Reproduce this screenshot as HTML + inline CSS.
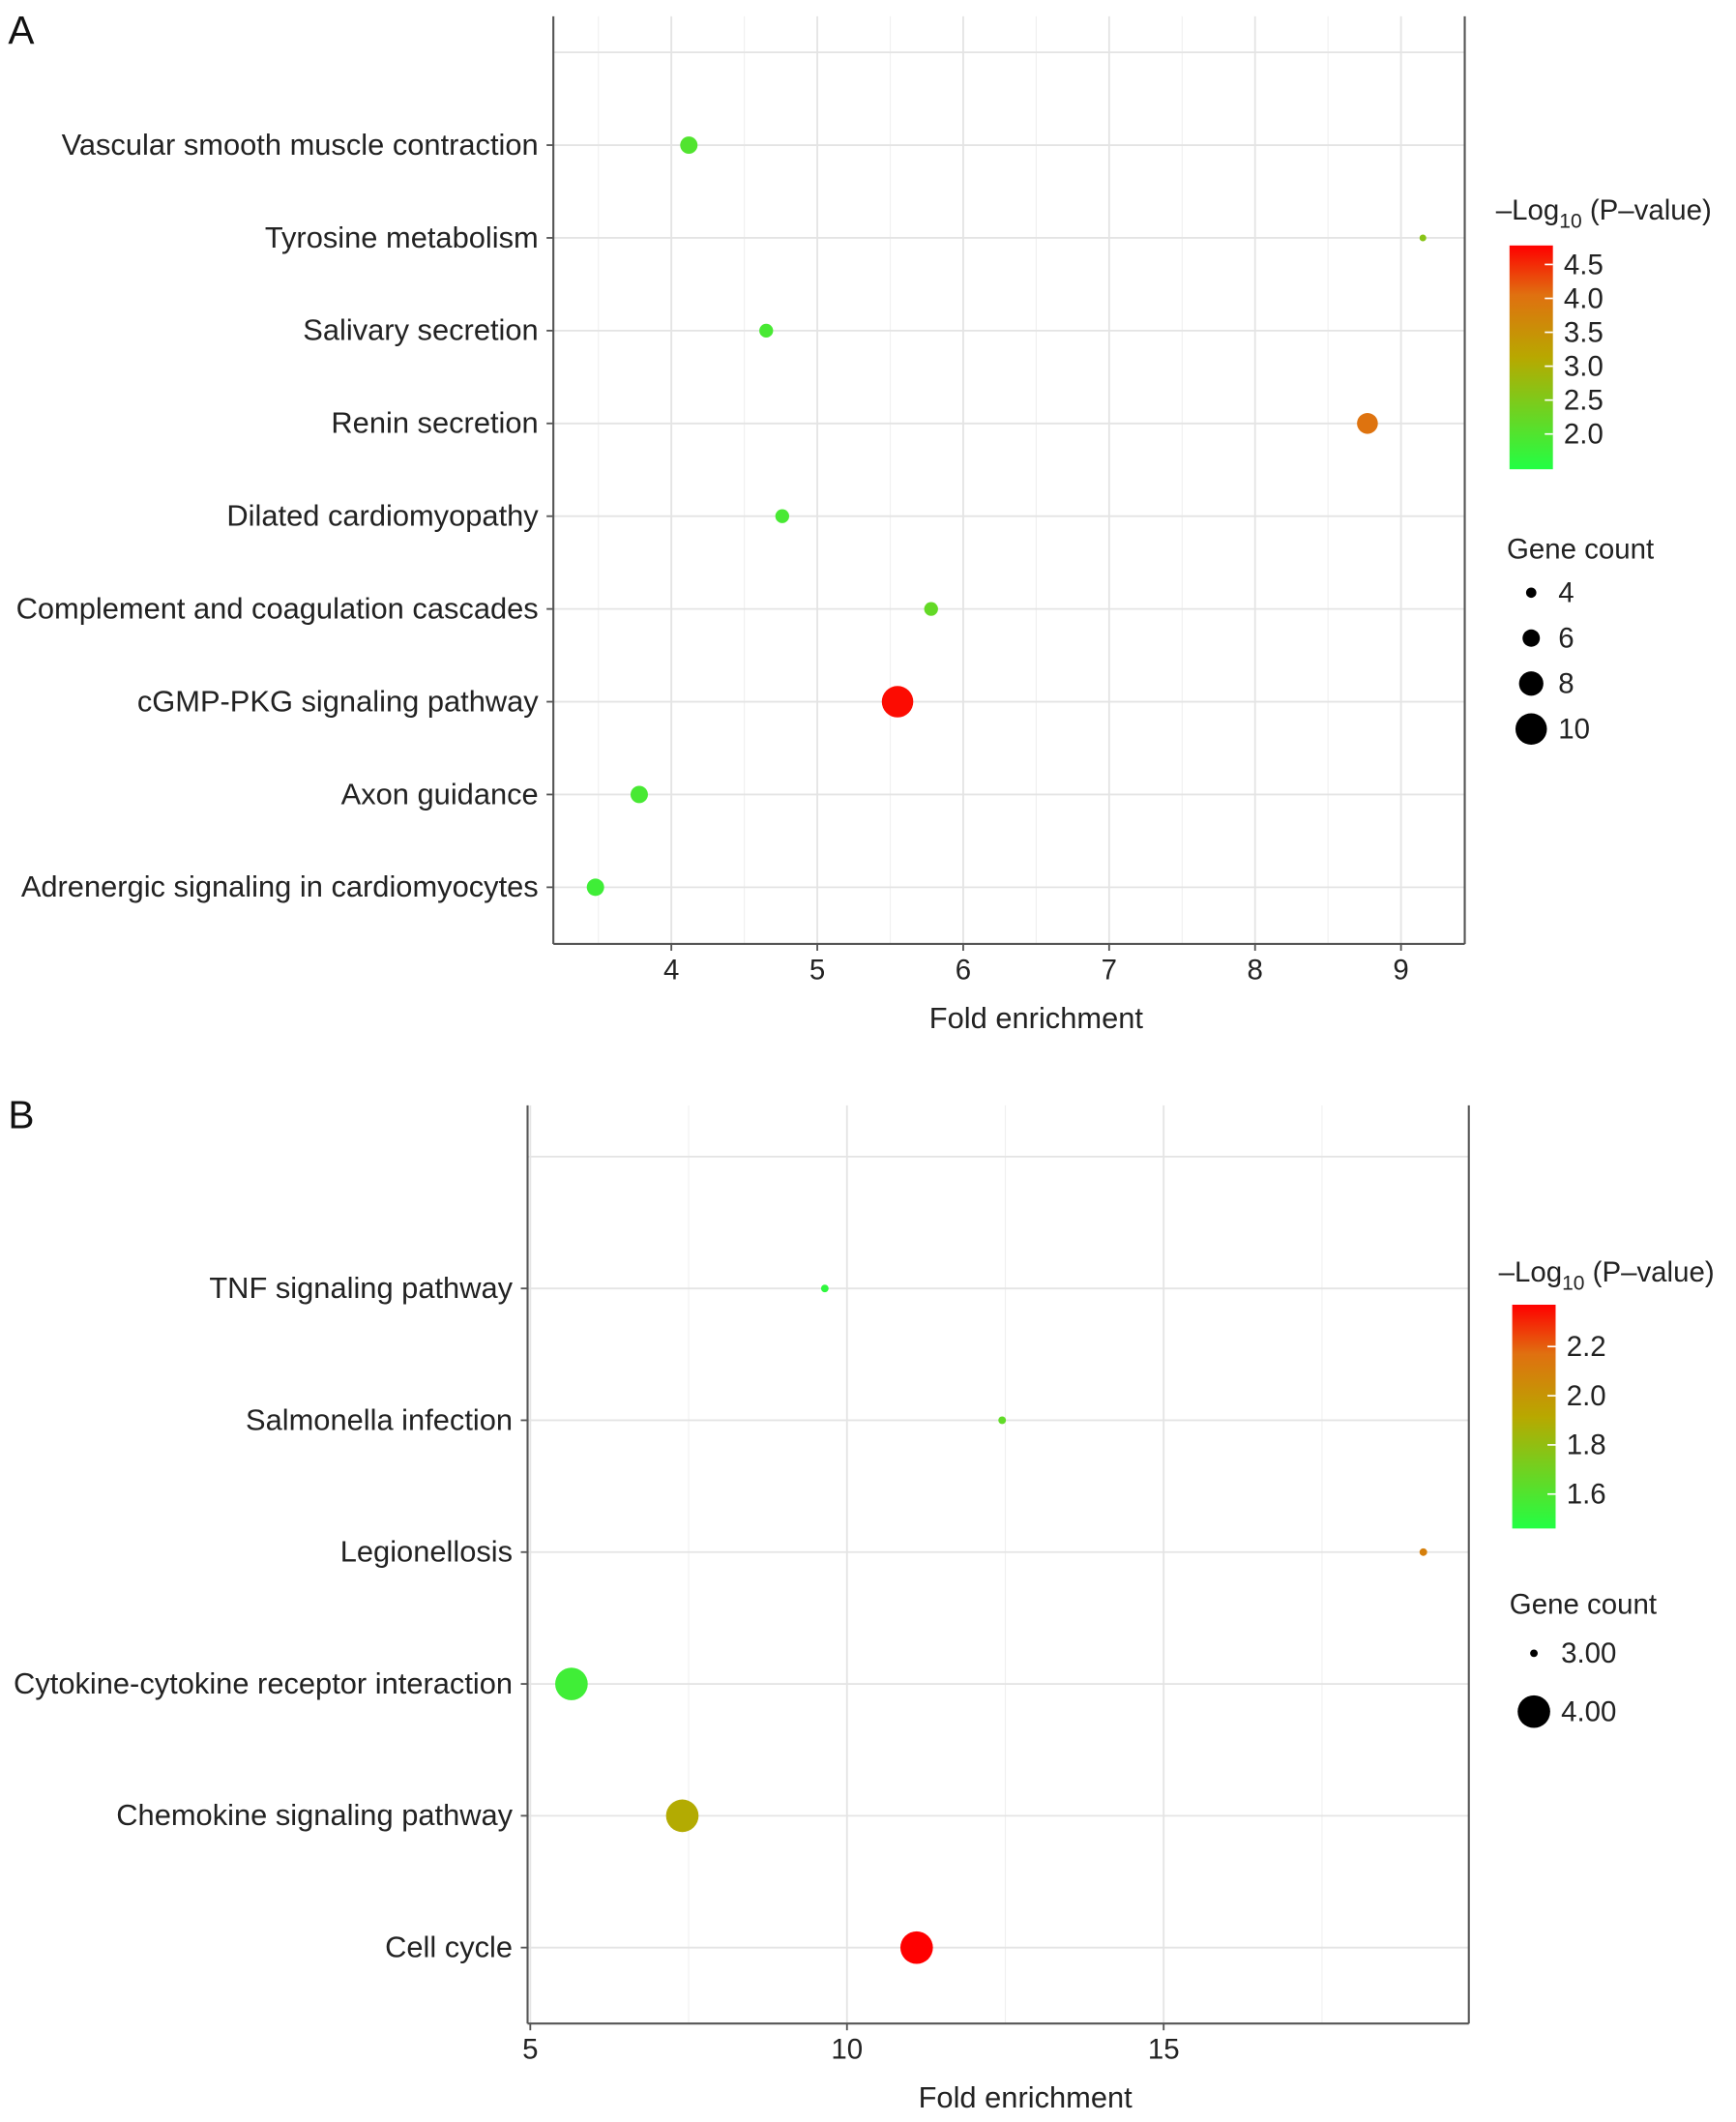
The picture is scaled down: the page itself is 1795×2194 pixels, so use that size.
<!DOCTYPE html>
<html><head><meta charset="utf-8"><style>
html,body{margin:0;padding:0;background:#fff;}
svg{display:block;font-family:"Liberation Sans",Arial,sans-serif;}
</style></head><body>
<svg id="chart" width="1795" height="2194" viewBox="0 0 1280 1564.6" preserveAspectRatio="none" xmlns="http://www.w3.org/2000/svg">
<defs>
<linearGradient id="gA" x1="0" y1="1" x2="0" y2="0">
<stop offset="0" stop-color="#22ff44"/><stop offset="0.5" stop-color="#b8a800"/><stop offset="0.78" stop-color="#e07010"/><stop offset="1" stop-color="#ff0000"/>
</linearGradient>
<linearGradient id="gB" x1="0" y1="1" x2="0" y2="0">
<stop offset="0" stop-color="#22ff44"/><stop offset="0.5" stop-color="#b8a800"/><stop offset="0.78" stop-color="#e07010"/><stop offset="1" stop-color="#ff0000"/>
</linearGradient>
</defs>
<g id="panelA"></g>
<g id="panelB"></g>
</svg>
<script>
const catsA = ["Vascular smooth muscle contraction","Tyrosine metabolism","Salivary secretion","Renin secretion","Dilated cardiomyopathy","Complement and coagulation cascades","cGMP-PKG signaling pathway","Axon guidance","Adrenergic signaling in cardiomyocytes"];
const foldA = [4.12, 9.15, 4.65, 8.77, 4.76, 5.78, 5.55, 3.78, 3.48];
const countA = [6, 3, 5, 7, 5, 5, 10, 6, 6];
const pA = [2.0, 2.6, 1.9, 4.0, 1.9, 2.2, 4.7, 1.9, 1.8];
const ticksA = [4,5,6,7,8,9];
const colorTicksA = [2.0,2.5,3.0,3.5,4.0,4.5];
const sizeLegA = [4,6,8,10];

const catsB = ["TNF signaling pathway","Salmonella infection","Legionellosis","Cytokine-cytokine receptor interaction","Chemokine signaling pathway","Cell cycle"];
const foldB = [9.65, 12.45, 19.1, 5.65, 7.4, 11.1];
const countB = [3, 3, 3, 4, 4, 4];
const pB = [1.5, 1.65, 2.1, 1.55, 1.9, 2.4];
const ticksB = [5,10,15];
const colorTicksB = [1.6,1.8,2.0,2.2];
const sizeLegB = [3,4];

const NS="http://www.w3.org/2000/svg";
function mk(parent,tag,attrs,text){const e=document.createElementNS(NS,tag);for(const k in attrs)e.setAttribute(k,attrs[k]);if(text!==undefined)e.textContent=text;parent.appendChild(e);return e;}
function hex(c){return [parseInt(c.slice(1,3),16),parseInt(c.slice(3,5),16),parseInt(c.slice(5,7),16)];}
const stops=[[0,"#22ff44"],[0.5,"#b8a800"],[0.78,"#e07010"],[1,"#ff0000"]];
function colorAt(t){t=Math.max(0,Math.min(1,t));let i=0;while(i<stops.length-2&&t>stops[i+1][0])i++;const a=hex(stops[i][1]),b=hex(stops[i+1][1]);const u=(t-stops[i][0])/(stops[i+1][0]-stops[i][0]);return "rgb("+a.map((v,k)=>Math.round(v+(b[k]-v)*u)).join(",")+")";}

function panel(g,cfg){
  const {cats,fold,count,p,ticks,colorTicks,sizeLeg}=cfg;
  const x=v=>cfg.x0+(v-cfg.v0)*cfg.px;
  const y=i=>cfg.yFirst+i*cfg.dy;
  const col=v=>colorAt((v-cfg.cmin)/(cfg.cmax-cfg.cmin));
  const rad=c=>cfg.r(c);
  let e=mk(g,"text",{x:6,y:cfg.letterY,"font-size":29,fill:"#111"},cfg.letter);
  
  
  const step=cfg.step;
  for(let v=Math.ceil(cfg.vmin/step)*step; v<=cfg.vmax; v+=step){
    const major=ticks.some(t=>Math.abs(t-v)<1e-6);
    e=mk(g,"line",{x1:x(v),x2:x(v),y1:cfg.top,y2:cfg.bottom,stroke:major?"#e4e4e4":"#f0f0f0","stroke-width":major?1.3:0.8});
    
    
  }
  for(let i=-1;i<cats.length;i++){
    e=mk(g,"line",{x1:cfg.left,x2:cfg.right,y1:y(i),y2:y(i),stroke:"#e4e4e4","stroke-width":1.3});
    
    
  }
  e=mk(g,"line",{x1:cfg.left,x2:cfg.left,y1:cfg.top,y2:cfg.bottom,stroke:"#555","stroke-width":1.5});
  
  e=mk(g,"line",{x1:cfg.right,x2:cfg.right,y1:cfg.top,y2:cfg.bottom,stroke:"#555","stroke-width":1.5});
  
  e=mk(g,"line",{x1:cfg.left,x2:cfg.right,y1:cfg.bottom,y2:cfg.bottom,stroke:"#555","stroke-width":1.5});
  
  ticks.forEach(t=>{
    e=mk(g,"line",{x1:x(t),x2:x(t),y1:cfg.bottom,y2:cfg.bottom+5,stroke:"#555","stroke-width":1.3});
    
    e=mk(g,"text",{x:x(t),y:cfg.bottom+26,"font-size":21,"text-anchor":"middle",fill:"#222"},String(t));
    
  });
  e=mk(g,"text",{x:(cfg.left+cfg.right)/2+20,y:cfg.bottom+62,"font-size":22,"text-anchor":"middle",fill:"#222"},"Fold enrichment");
  
  cats.forEach((c,i)=>{
    e=mk(g,"line",{x1:cfg.left-5,x2:cfg.left,y1:y(i),y2:y(i),stroke:"#555","stroke-width":1.3});
    
    e=mk(g,"text",{x:cfg.left-11,y:y(i)+7,"font-size":22,"text-anchor":"end",fill:"#222"},c);
    
    e=mk(g,"circle",{cx:x(fold[i]),cy:y(i),r:rad(count[i]),fill:col(p[i])});
    
  });
  const L=cfg.leg;
  e=mk(g,"text",{x:L.x-10,y:L.titleY,"font-size":21,fill:"#222"});
  
  e.innerHTML='–Log<tspan font-size="15" dy="6">10</tspan><tspan dy="-6"> (P–value)</tspan>';
  e=mk(g,"rect",{x:L.x,y:L.barTop,width:32,height:L.barBot-L.barTop,fill:"url(#"+cfg.grad+")"});
  
  const cy=v=>L.barBot-(v-cfg.cmin)/(cfg.cmax-cfg.cmin)*(L.barBot-L.barTop);
  colorTicks.forEach(t=>{
    e=mk(g,"line",{x1:L.x+26,x2:L.x+32,y1:cy(t),y2:cy(t),stroke:"#fff","stroke-width":1.2});
    
    e=mk(g,"text",{x:L.x+40,y:cy(t)+7,"font-size":21,fill:"#222"},t.toFixed(1));
    
  });
  e=mk(g,"text",{x:L.x-2,y:L.sizeTitleY,"font-size":21,fill:"#222"},"Gene  count");
  
  sizeLeg.forEach((s,i)=>{
    const yy=L.sizeY0+i*L.sizeDy;
    e=mk(g,"circle",{cx:L.x+16,cy:yy,r:rad(s),fill:"#000"});
    
    e=mk(g,"text",{x:L.x+36,y:yy+7,"font-size":21,fill:"#222"},cfg.sizeFmt(s));
    
  });
}

panel(document.getElementById("panelA"),{
  cats:catsA,fold:foldA,count:countA,p:pA,ticks:ticksA,colorTicks:colorTicksA,sizeLeg:sizeLegA,
  letter:"A",letterY:32,left:408,right:1080,top:12,bottom:696,x0:495,v0:4,px:107.6,vmin:3.19,vmax:9.44,step:0.5,
  yFirst:107,dy:68.4,cmin:1.48,cmax:4.78,grad:"gA",r:c=>2.5+(c-3)*1.3,sizeFmt:s=>String(s),
  leg:{x:1113,titleY:162,barTop:181,barBot:346,sizeTitleY:412,sizeY0:437,sizeDy:33.5}
});
panel(document.getElementById("panelB"),{
  cats:catsB,fold:foldB,count:countB,p:pB,ticks:ticksB,colorTicks:colorTicksB,sizeLeg:sizeLegB,
  letter:"B",letterY:832,left:389,right:1083,top:815,bottom:1492,x0:391,v0:5,px:46.7,vmin:4.96,vmax:19.8,step:2.5,
  yFirst:950,dy:97.2,cmin:1.46,cmax:2.37,grad:"gB",r:c=>c<=3?2.8:12,sizeFmt:s=>s.toFixed(2),
  leg:{x:1115,titleY:945,barTop:962,barBot:1127,sizeTitleY:1190,sizeY0:1219,sizeDy:43}
});
</script>
</body></html>
